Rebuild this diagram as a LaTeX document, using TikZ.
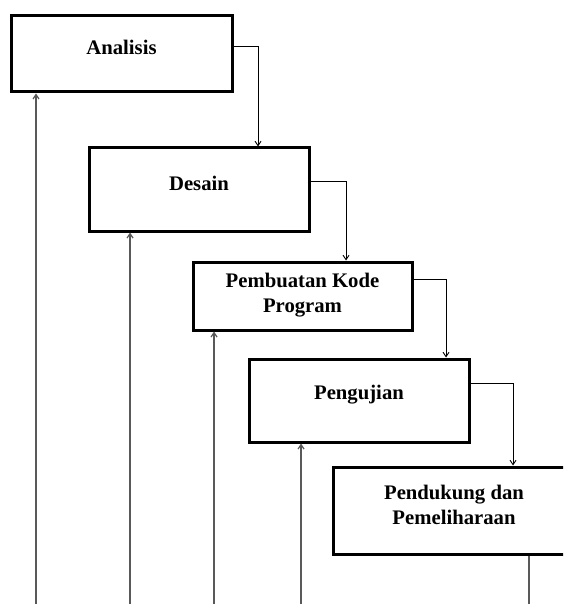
\documentclass[tikz,border=0pt]{standalone}
\usepackage{fontspec}
\setmainfont{Liberation Serif}
\usetikzlibrary{arrows.meta}
\begin{document}
\begin{tikzpicture}[x=1pt, y=-1pt,
  stage/.style={draw=black, line width=3pt, fill=white, inner sep=0pt},
  lbl/.style={font=\fontsize{20.7}{25}\selectfont\bfseries, align=center, inner sep=0pt},
  conn/.style={draw=black, line width=0.9pt},
  flow/.style={conn, -{Straight Barb[length=4.5pt,width=6pt]}},
  back/.style={draw=black!65, line width=1.2pt, -{Straight Barb[length=4.5pt,width=6pt]}}]
  \useasboundingbox (0,0) rectangle (563,604);
  \clip (0,0) rectangle (563,604);

  % stage boxes
  \node[stage, minimum width=221pt, minimum height=76pt] (b1) at (121.5,54) {};
  \node[stage, minimum width=220pt, minimum height=83pt] (b2) at (199,189.5) {};
  \node[stage, minimum width=219pt, minimum height=68pt] (b3) at (302.5,296) {};
  \node[stage, minimum width=220pt, minimum height=83pt] (b4) at (359,400.5) {};
  \node[stage, minimum width=242pt, minimum height=87pt] (b5) at (454,510.5) {};

  % stage titles (base = baseline of the last line)
  \node[lbl, anchor=base] (t1) at (121.5,55) {Analisis};
  \node[lbl, anchor=base] (t2) at (199,190) {Desain};
  \node[lbl, anchor=base] (t3) at (302.5,312) {Pembuatan Kode\\Program};
  \node[lbl, anchor=base] (t4) at (359,399) {Pengujian};
  \node[lbl, anchor=base] (t5) at (454,524) {Pendukung dan\\Pemeliharaan};

  % forward flow between stages
  \draw[flow] ([yshift=8pt]b1.east) -| ([xshift=59pt]b2.north);
  \draw[flow] ([yshift=8.5pt]b2.east) -| ([xshift=43.5pt]b3.north);
  \draw[flow] ([yshift=17pt]b3.east) -| ([xshift=87pt]b4.north);
  \draw[flow] ([yshift=17.5pt]b4.east) -| ([xshift=59pt]b5.north);

  % line leaving the last stage
  \coordinate (out) at (529,604);
  \draw[back, -] ([xshift=75pt]b5.south) -- (out);

  % feedback lines rising to earlier stages
  \coordinate (f1) at (36,604);
  \coordinate (f2) at (130,604);
  \coordinate (f3) at (214,604);
  \coordinate (f4) at (301,604);
  \draw[back] (f1) -- (f1 |- b1.south);
  \draw[back] (f2) -- (f2 |- b2.south);
  \draw[back] (f3) -- (f3 |- b3.south);
  \draw[back] (f4) -- (f4 |- b4.south);
\end{tikzpicture}
\end{document}
